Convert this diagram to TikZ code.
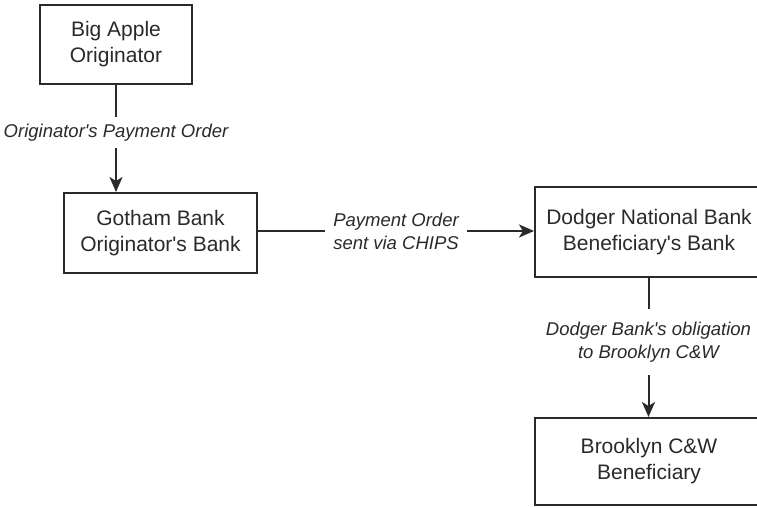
\documentclass[tikz,border=0pt]{standalone}
\usepackage{fontspec}
\setmainfont{Liberation Sans}[Ligatures=TeXOff]
\usetikzlibrary{arrows.meta}
\definecolor{ink}{HTML}{2A2A2A}
\tikzset{
  box/.style={draw=ink, line width=2pt, rectangle, align=center, text=ink,
    font=\fontsize{21}{26}\selectfont, inner sep=0pt},
  lbl/.style={align=center, text=ink, inner sep=0pt,
    font=\fontsize{18.5}{23}\selectfont\itshape},
  conn/.style={draw=ink, line width=2pt},
  arr/.style={conn, -{Stealth[length=15pt,width=13pt,inset=4pt]}}
}
\begin{document}
\begin{tikzpicture}[x=1pt,y=-1pt]
\useasboundingbox (0,0) rectangle (757,508);
\clip (0,0) rectangle (757,508);
\fill[white] (0,0) rectangle (757,508);
\node[box, minimum width=152, minimum height=79] (ba) at (116,44.5) {Big Apple\\Originator};
\node[box, minimum width=193, minimum height=80] (gb) at (160.5,233) {Gotham Bank\\Originator's Bank};
\node[box, minimum width=228, minimum height=90] (dn) at (649,232) {Dodger National Bank\\Beneficiary's Bank};
\node[box, minimum width=228, minimum height=87] (bc) at (649,461.5) {Brooklyn C\&W\\Beneficiary};
\node[lbl, minimum height=31] (l1) at (116,132.5) {Originator's Payment Order};
\node[lbl, minimum width=142] (l2) at (396,231) {Payment Order\\sent via CHIPS};
\node[lbl, minimum height=66] (l3) at (648.5,342) {Dodger Bank's obligation\\to Brooklyn C\&W};
\draw[conn] (ba.south -| l1) -- (l1.north);
\draw[arr] (l1.south) -- (l1.south |- gb.north);
\draw[conn] (gb.east |- l2) -- (l2.west);
\draw[arr] (l2.east) -- (dn.west |- l2);
\draw[conn] (dn.south -| l3) -- (l3.north);
\draw[arr] (l3.south) -- (l3.south |- bc.north);
\end{tikzpicture}
\end{document}
